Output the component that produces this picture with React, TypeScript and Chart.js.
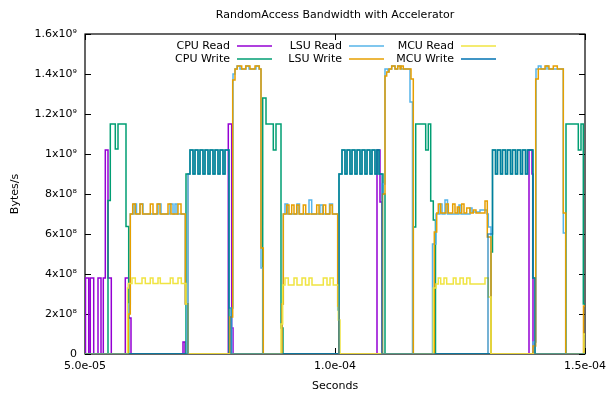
import React, { useEffect, useRef } from "react";
import { Chart, registerables } from "chart.js";
Chart.register(...registerables);

// ---------- text ----------
const TITLE = "RandomAccess Bandwidth with Accelerator";
const X_TITLE = "Seconds";
const Y_TITLE = "Bytes/s";

// x values are in microseconds; labels show seconds
const xTickValues = [50, 100, 150];
const xTickLabels = ["5.0e-05", "1.0e-04", "1.5e-04"];
const yTickValues = [0, 2e8, 4e8, 6e8, 8e8, 1e9, 1.2e9, 1.4e9, 1.6e9];
const yTickLabels = ["0", "2x10⁸", "4x10⁸", "6x10⁸", "8x10⁸", "1x10⁹", "1.2x10⁹", "1.4x10⁹", "1.6x10⁹"];

const seriesNames = ["CPU Read", "CPU Write", "LSU Read", "LSU Write", "MCU Read", "MCU Write"];
const seriesColors = ["#9400d3", "#009e73", "#56b4e9", "#e69f00", "#f0e442", "#0072b2"];
const seriesLineColors = ["#9400d3", "#009e73", "#56b4e9", "#e69f00", "#f0e442", "rgba(0,114,178,0.72)"];

// ---------- data: [time (µs), bytes/s], value held until next point ----------
const cpuRead: [number, number][] = [
  [50, 0],
  [50.1, 3.8e8], [50.74, 0], [51.06, 3.8e8], [51.74, 0], [52.6, 3.8e8], [53.2, 0],
  [53.66, 3.8e8], [54.06, 1.02e9], [54.6, 3.8e8], [55.26, 0],
  [58.06, 3.8e8], [58.74, 1.8e8], [59.2, 0],
  [69.6, 6e7], [70.0, 0],
  [78.66, 1.15e9], [79.34, 1.3e8], [79.6, 0],
  [108.4, 1.02e9], [109.0, 7.6e8], [109.4, 0],
  [138.8, 1.02e9], [139.4, 9e8], [139.6, 0],
  [150, 0],
];

const cpuWrite: [number, number][] = [
  [50, 0],
  [54.6, 7.67e8], [55.06, 1.15e9], [56.06, 1.025e9], [56.6, 1.15e9], [58.2, 6.37e8], [58.74, 0],
  [70.2, 9e8], [71.0, 1.02e9], [71.6, 9e8], [72.0, 1.02e9], [72.6, 9e8], [73.0, 1.02e9], [73.6, 9e8],
  [74.0, 1.02e9], [74.6, 9e8], [75.0, 1.02e9], [75.6, 9e8], [76.0, 1.02e9], [76.6, 9e8],
  [77.0, 1.02e9], [77.6, 9e8], [78.0, 1.02e9], [78.8, 0],
  [85.54, 1.28e9], [86.2, 1.15e9], [87.66, 1.02e9], [88.2, 1.15e9], [89.2, 1.3e8], [89.6, 0],
  [100.8, 9e8], [101.4, 1.02e9], [102.0, 9e8], [102.4, 1.02e9], [103.0, 9e8], [103.4, 1.02e9],
  [104.0, 9e8], [104.4, 1.02e9], [105.0, 9e8], [105.4, 1.02e9], [106.0, 9e8], [106.4, 1.02e9],
  [107.0, 9e8], [107.4, 1.02e9], [108.0, 9e8], [108.4, 1.02e9], [108.8, 9e8], [109.6, 8e8], [110.0, 0],
  [115.66, 6.35e8], [116.14, 1.15e9], [118.14, 1.02e9], [118.66, 1.15e9], [119.14, 7.65e8],
  [119.66, 6.7e8], [120.1, 0],
  [131.2, 5.1e8], [131.5, 1.02e9], [132.1, 9e8], [132.5, 1.02e9], [133.1, 9e8], [133.5, 1.02e9],
  [134.1, 9e8], [134.5, 1.02e9], [135.1, 9e8], [135.5, 1.02e9], [136.1, 9e8], [136.5, 1.02e9],
  [137.1, 9e8], [137.5, 1.02e9], [138.1, 9e8], [138.5, 1.02e9], [139.6, 3.8e8], [140.0, 0],
  [146.2, 1.15e9], [148.66, 1.02e9], [149.2, 1.15e9], [149.66, 2.5e8], [150, 2.5e8],
];

const lsuRead: [number, number][] = [
  [50, 0],
  [58.66, 2.5e8], [59.06, 7.0e8], [59.8, 7.5e8], [60.3, 7.0e8], [61.0, 7.5e8], [61.6, 7.0e8],
  [64.6, 7.5e8], [65.2, 7.0e8], [67.0, 7.5e8], [67.6, 7.0e8], [68.0, 7.5e8], [68.4, 7.0e8],
  [70.06, 2.5e8], [70.4, 0],
  [79.34, 2.3e8], [79.6, 1.4e9], [80.0, 1.425e9], [80.4, 1.44e9], [81.0, 1.425e9], [82.2, 1.44e9],
  [82.8, 1.425e9], [84.2, 1.44e9], [84.8, 1.425e9], [85.2, 4.3e8], [85.6, 0],
  [89.4, 2.5e8], [89.66, 7.0e8], [90.0, 7.5e8], [90.54, 7.0e8], [92.4, 7.5e8], [92.9, 7.0e8],
  [94.8, 7.7e8], [95.34, 7.0e8], [97.0, 7.45e8], [97.5, 7.0e8], [98.9, 7.5e8], [99.5, 7.0e8],
  [100.54, 2.2e8], [100.8, 0],
  [109.5, 8.5e8], [110.0, 1.425e9], [110.6, 1.41e9], [110.8, 1.425e9], [111.34, 1.44e9],
  [112.0, 1.425e9], [112.54, 1.44e9], [113.2, 1.425e9], [115.0, 1.26e9], [115.5, 0],
  [119.5, 5.5e8], [120.2, 7.0e8], [121.0, 7.5e8], [121.4, 7.0e8], [122.0, 7.7e8], [122.5, 7.0e8],
  [124.8, 7.45e8], [125.2, 7.0e8], [127.0, 7.3e8], [127.4, 7.1e8], [129.0, 7.2e8], [130.4, 7.0e8],
  [130.66, 6.35e8], [131.2, 0],
  [139.6, 6e7], [140.2, 1.425e9], [140.66, 1.44e9], [141.2, 1.425e9], [142.2, 1.44e9],
  [142.6, 1.425e9], [145.66, 6.05e8], [146.14, 0],
  [150, 0],
];

const lsuWrite: [number, number][] = [
  [50, 0],
  [58.66, 2.0e8], [59.06, 7.0e8], [59.54, 7.5e8], [60.06, 7.0e8], [61.0, 7.5e8], [61.5, 7.0e8],
  [63.06, 7.5e8], [63.6, 7.0e8], [64.4, 7.5e8], [65.0, 7.0e8], [66.6, 7.5e8], [67.2, 7.0e8],
  [68.6, 7.5e8], [69.2, 7.0e8], [70.06, 2.5e8], [70.6, 0],
  [79.0, 1.85e8], [79.54, 1.37e9], [80.0, 1.425e9], [80.46, 1.44e9], [81.34, 1.425e9],
  [82.14, 1.44e9], [83.0, 1.425e9], [84.0, 1.44e9], [84.86, 1.425e9], [85.2, 5.3e8], [85.66, 0],
  [89.4, 2.5e8], [89.66, 7.0e8], [90.34, 7.45e8], [90.8, 7.0e8], [91.34, 7.45e8], [91.8, 7.0e8],
  [92.34, 7.45e8], [92.8, 7.0e8], [93.66, 7.45e8], [94.14, 7.0e8], [96.34, 7.45e8], [96.8, 7.0e8],
  [97.66, 7.45e8], [98.14, 7.0e8], [99.0, 7.45e8], [99.46, 7.0e8], [100.54, 2.4e8], [100.8, 0],
  [109.5, 8.0e8], [110.0, 1.39e9], [110.34, 1.41e9], [110.8, 1.425e9], [111.34, 1.44e9],
  [112.0, 1.425e9], [112.54, 1.44e9], [113.0, 1.425e9], [113.2, 1.44e9], [113.66, 1.425e9],
  [115.2, 1.375e9], [115.66, 0],
  [119.86, 6.1e8], [120.34, 7.05e8], [120.66, 7.5e8], [121.14, 7.05e8], [122.2, 7.5e8],
  [122.66, 7.05e8], [123.54, 7.5e8], [124.0, 7.05e8], [124.46, 7.35e8], [124.86, 7.05e8],
  [125.34, 7.5e8], [125.8, 7.05e8], [126.34, 7.3e8], [127.0, 7.05e8], [127.66, 7.2e8],
  [128.2, 7.05e8], [130.0, 7.65e8], [130.46, 5.85e8], [131.2, 0],
  [139.6, 4e7], [140.14, 1.375e9], [140.66, 1.425e9], [142.0, 1.44e9], [142.8, 1.425e9],
  [143.66, 1.44e9], [144.46, 1.425e9], [145.66, 7.05e8], [146.14, 0],
  [149.7, 2.4e8], [150, 2.4e8],
];

const mcuRead: [number, number][] = [
  [50, 0],
  [58.5, 3.3e8], [58.66, 3.53e8], [59.4, 3.8e8], [60.06, 3.53e8], [61.4, 3.8e8], [62.06, 3.53e8],
  [63.06, 3.8e8], [63.6, 3.53e8], [64.6, 3.8e8], [65.06, 3.53e8], [67.06, 3.8e8], [67.6, 3.53e8],
  [68.6, 3.8e8], [69.26, 3.53e8], [70.2, 2.5e8], [70.66, 0],
  [89.2, 1.5e8], [89.54, 3.45e8], [90.0, 3.8e8], [90.66, 3.45e8], [91.8, 3.8e8], [92.4, 3.45e8],
  [93.4, 3.8e8], [94.1, 3.45e8], [94.8, 3.8e8], [95.4, 3.45e8], [97.66, 3.8e8], [98.4, 3.45e8],
  [99.0, 3.8e8], [99.66, 3.45e8], [100.66, 1.7e8], [101.0, 0],
  [119.66, 3.3e8], [120.2, 3.5e8], [120.66, 3.8e8], [121.14, 3.5e8], [121.8, 3.8e8], [122.34, 3.5e8],
  [123.66, 3.8e8], [124.2, 3.5e8], [125.0, 3.8e8], [125.66, 3.5e8], [126.34, 3.8e8], [127.0, 3.5e8],
  [130.0, 3.8e8], [130.66, 2.85e8], [131.2, 0],
  [149.8, 1e8], [150, 1e8],
];

const mcuWrite: [number, number][] = [
  [50, 0],
  [70.6, 9e8], [71.0, 1.02e9], [71.6, 9e8], [72.0, 1.02e9], [72.6, 9e8], [73.0, 1.02e9], [73.6, 9e8],
  [74.0, 1.02e9], [74.6, 9e8], [75.0, 1.02e9], [75.6, 9e8], [76.0, 1.02e9], [76.6, 9e8],
  [77.0, 1.02e9], [77.6, 9e8], [78.0, 1.02e9], [78.8, 2.3e8], [79.2, 0],
  [100.8, 9e8], [101.4, 1.02e9], [102.0, 9e8], [102.4, 1.02e9], [103.0, 9e8], [103.4, 1.02e9],
  [104.0, 9e8], [104.4, 1.02e9], [105.0, 9e8], [105.4, 1.02e9], [106.0, 9e8], [106.4, 1.02e9],
  [107.0, 9e8], [107.4, 1.02e9], [108.0, 9e8], [108.4, 1.02e9], [108.8, 9e8], [109.4, 0],
  [130.6, 6e8], [131.5, 1.02e9], [132.1, 9e8], [132.5, 1.02e9], [133.1, 9e8], [133.5, 1.02e9],
  [134.1, 9e8], [134.5, 1.02e9], [135.1, 9e8], [135.5, 1.02e9], [136.1, 9e8], [136.5, 1.02e9],
  [137.1, 9e8], [137.5, 1.02e9], [138.1, 9e8], [138.5, 1.02e9], [139.54, 3.8e8], [140.0, 0],
  [150, 0],
];

const allSeries = [cpuRead, cpuWrite, lsuRead, lsuWrite, mcuRead, mcuWrite];

const FONT = "'DejaVu Sans', sans-serif";

const decorPlugin = {
  id: "decor",
  beforeDatasetsDraw(chart: any) {
    const { ctx, chartArea: a, scales } = chart;
    ctx.save();
    ctx.strokeStyle = "#000";
    ctx.lineWidth = 1.2;
    ctx.strokeRect(a.left, a.top, a.right - a.left, a.bottom - a.top);
    ctx.lineWidth = 1;
    ctx.beginPath();
    yTickValues.forEach((v) => {
      const y = Math.round(scales.y.getPixelForValue(v)) + 0.5;
      ctx.moveTo(a.left, y);
      ctx.lineTo(a.left + 6, y);
      ctx.moveTo(a.right, y);
      ctx.lineTo(a.right - 6, y);
    });
    xTickValues.forEach((v) => {
      const x = Math.round(scales.x.getPixelForValue(v)) + 0.5;
      ctx.moveTo(x, a.bottom);
      ctx.lineTo(x, a.bottom - 6);
      ctx.moveTo(x, a.top);
      ctx.lineTo(x, a.top + 6);
    });
    ctx.stroke();
    ctx.restore();
  },
  afterDraw(chart: any) {
    const { ctx, chartArea: a } = chart;
    ctx.save();
    ctx.fillStyle = "#000";
    ctx.font = `11px ${FONT}`;
    ctx.textBaseline = "middle";
    ctx.textAlign = "center";
    ctx.fillText(TITLE, (a.left + a.right) / 2, 15);
    // legend: 3 columns x 2 rows, text right-aligned with sample line after it
    ctx.textAlign = "right";
    seriesNames.forEach((name, i) => {
      const col = Math.floor(i / 2);
      const row = i % 2;
      const tx = a.left + 145 + col * 112;
      const ty = a.top + 12 + row * 13;
      ctx.fillStyle = "#000";
      ctx.fillText(name, tx, ty);
      ctx.strokeStyle = seriesColors[i];
      ctx.lineWidth = 1.5;
      ctx.beginPath();
      ctx.moveTo(tx + 7, ty);
      ctx.lineTo(tx + 42, ty);
      ctx.stroke();
    });
    ctx.restore();
  },
};

export default function App() {
  const ref = useRef<HTMLCanvasElement>(null);
  useEffect(() => {
    Chart.defaults.font.family = FONT;
    Chart.defaults.font.size = 11;
    Chart.defaults.color = "#000";
    const chart = new Chart(ref.current as HTMLCanvasElement, {
      type: "line",
      data: {
        datasets: seriesNames.map((name, i) => ({
          label: name,
          data: allSeries[i].map(([t, v]) => ({ x: t, y: v })),
          borderColor: seriesLineColors[i],
          backgroundColor: seriesColors[i],
          borderWidth: 1.5,
          stepped: true,
          pointRadius: 0,
          fill: false,
          order: seriesNames.length - i,
        })),
      },
      options: {
        responsive: false,
        animation: false,
        layout: { padding: { top: 34, right: 22, left: 0, bottom: 0 } },
        plugins: { legend: { display: false }, tooltip: { enabled: false }, title: { display: false } },
        scales: {
          x: {
            type: "linear",
            min: 50,
            max: 150,
            afterBuildTicks: (s: any) => {
              s.ticks = xTickValues.map((v) => ({ value: v }));
            },
            afterFit: (s: any) => {
              s.height = 39;
              s.paddingLeft = 0;
              s.paddingRight = 0;
            },
            ticks: {
              autoSkip: false,
              maxRotation: 0,
              padding: 6,
              color: "#000",
              font: { size: 11, family: FONT },
              callback: (v: any) => {
                const k = xTickValues.indexOf(Number(v));
                return k >= 0 ? xTickLabels[k] : "";
              },
            },
            grid: { display: false, drawTicks: false },
            border: { display: false },
            title: { display: true, text: X_TITLE, color: "#000", font: { size: 11, family: FONT }, padding: { top: 0, bottom: 0 } },
          },
          y: {
            type: "linear",
            min: 0,
            max: 1.6e9,
            afterBuildTicks: (s: any) => {
              s.ticks = yTickValues.map((v) => ({ value: v }));
            },
            afterFit: (s: any) => {
              s.width = 85;
              s.paddingTop = 0;
              s.paddingBottom = 0;
            },
            ticks: {
              autoSkip: false,
              padding: 8,
              color: "#000",
              font: { size: 11, family: FONT },
              callback: (v: any) => {
                const k = yTickValues.indexOf(Number(v));
                return k >= 0 ? yTickLabels[k] : "";
              },
            },
            grid: { display: false, drawTicks: false },
            border: { display: false },
            title: { display: true, text: Y_TITLE, color: "#000", font: { size: 11, family: FONT }, padding: { top: 9, bottom: 0 } },
          },
        },
      },
      plugins: [decorPlugin],
    } as any);
    return () => chart.destroy();
  }, []);
  return (
    <div style={{ position: "absolute", left: 0, top: 0, width: 607, height: 393, background: "#fff" }}>
      <canvas ref={ref} width={607} height={393} style={{ display: "block", width: 607, height: 393 }} />
    </div>
  );
}
